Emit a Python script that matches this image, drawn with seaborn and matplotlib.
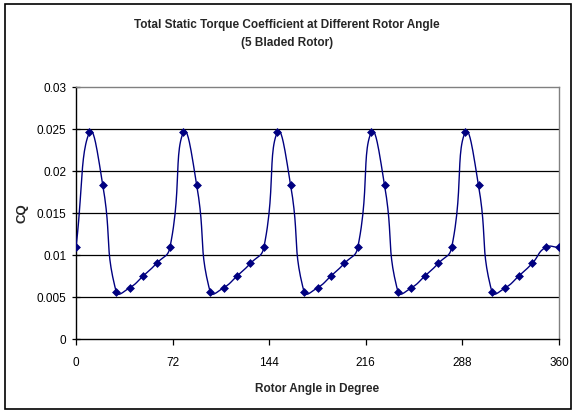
import numpy as np
import pandas as pd
import matplotlib
matplotlib.use("Agg")
import matplotlib.pyplot as plt
import seaborn as sns
from matplotlib.patches import Rectangle

# ---- data ----
angle = [0, 10, 20, 30, 40, 50, 60,
         70, 80, 90, 100, 110, 120, 130,
         140, 150, 160, 170, 180, 190, 200,
         210, 220, 230, 240, 250, 260, 270,
         280, 290, 300, 310, 320, 330, 340,
         350, 360]
cq = [0.0109, 0.0246, 0.0183, 0.0056, 0.0061, 0.0075, 0.0090,
      0.0109, 0.0246, 0.0183, 0.0056, 0.0061, 0.0075, 0.0090,
      0.0109, 0.0246, 0.0183, 0.0056, 0.0061, 0.0075, 0.0090,
      0.0109, 0.0246, 0.0183, 0.0056, 0.0061, 0.0075, 0.0090,
      0.0109, 0.0246, 0.0183, 0.0056, 0.0061, 0.0075, 0.0090,
      0.0109, 0.0109]
x_ticks = [0, 72, 144, 216, 288, 360]
y_ticks = [0, 0.005, 0.01, 0.015, 0.02, 0.025, 0.03]
y_tick_labels = ["0", "0.005", "0.01", "0.015", "0.02", "0.025", "0.03"]
title = "Total Static Torque Coefficient at Different Rotor Angle\n(5 Bladed Rotor)"
x_label = "Rotor Angle in Degree"
y_label = "CQ"

df = pd.DataFrame({"angle": angle, "cq": cq})

W, H = 574, 412
ax_l, ax_r, ax_t, ax_b = 76, 559, 87, 339
x_rng, y_rng = (0, 360), (0, 0.03)
sxp = (ax_r - ax_l) / (x_rng[1] - x_rng[0])   # px per unit x
syp = (ax_b - ax_t) / (y_rng[1] - y_rng[0])   # px per unit y


# Excel-like smoothed line: Bezier through data points, tangents scaled
# by chord lengths measured on screen.
def smooth(xs, ys, n=24, k=0.5):
    P = np.column_stack([np.asarray(xs, float) * sxp, np.asarray(ys, float) * syp])
    N = len(P)
    Pp = np.vstack([P[0], P, P[-1]])
    out = []
    t = np.linspace(0, 1, n, endpoint=False)[:, None]

    def d(a, b):
        return np.hypot(*(a - b)) + 1e-9

    for i in range(1, N):
        p0, p1, p2, p3 = Pp[i - 1], Pp[i], Pp[i + 1], Pp[i + 2]
        d01, d12, d23 = d(p0, p1), d(p1, p2), d(p2, p3)
        b1 = p1 + (p2 - p0) * k * d12 / (d01 + d12)
        b2 = p2 - (p3 - p1) * k * d12 / (d12 + d23)
        seg = ((1 - t) ** 3) * p1 + 3 * ((1 - t) ** 2) * t * b1 + 3 * (1 - t) * t ** 2 * b2 + t ** 3 * p2
        out.append(seg)
    out.append(P[-1][None, :])
    out = np.vstack(out)
    return out[:, 0] / sxp, out[:, 1] / syp


sx, sy = smooth(df["angle"], df["cq"])
smooth_df = pd.DataFrame({"angle": sx, "cq": sy})

sns.set_theme(style="white")
plt.rcParams["font.family"] = ["Liberation Sans", "DejaVu Sans"]

fig = plt.figure(figsize=(W / 100, H / 100), dpi=100)
ax = fig.add_axes([ax_l / W, 1 - ax_b / H, (ax_r - ax_l) / W, (ax_b - ax_t) / H])

# gridlines
for v in y_ticks[1:-1]:
    ax.axhline(v, color="black", lw=0.9, zorder=1)

navy = "#000080"
sns.lineplot(data=smooth_df, x="angle", y="cq", ax=ax, color=navy, lw=1.0,
             sort=False, estimator=None, zorder=3)
sns.scatterplot(data=df, x="angle", y="cq", ax=ax, color=navy, marker="D",
                s=16, edgecolor=navy, linewidth=0.5, zorder=4)

ax.set_xlim(*x_rng)
ax.set_ylim(*y_rng)
ax.set_xticks(x_ticks)
ax.set_xticklabels([str(v) for v in x_ticks])
ax.set_yticks(y_ticks)
ax.set_yticklabels(y_tick_labels)
ax.tick_params(axis="x", direction="out", length=4, width=0.9, colors="black",
               labelsize=8.5, pad=9, bottom=True)
ax.tick_params(axis="y", direction="inout", length=6, width=0.9, colors="black",
               labelsize=8.5, pad=4, left=True)

for side in ["left", "bottom"]:
    ax.spines[side].set_color("black")
    ax.spines[side].set_linewidth(1.0)
for side in ["top", "right"]:
    ax.spines[side].set_color("#808080")
    ax.spines[side].set_linewidth(1.0)

ax.set_xlabel(x_label, fontsize=8.5, fontweight="bold", labelpad=10)
ax.set_ylabel(y_label, fontsize=9.5, fontweight="bold", labelpad=6)
ax.grid(False)

fig.text(0.5, 1 - 34 / H, title, ha="center", va="center",
         fontsize=8.5, fontweight="bold", linespacing=1.6)

# outer chart border
fig.patches.append(Rectangle((5 / W, 3 / H), 566 / W, 405 / H,
                             transform=fig.transFigure, fill=False,
                             edgecolor="black", lw=1.2))

fig.savefig("out.png", dpi=100, facecolor="white")
